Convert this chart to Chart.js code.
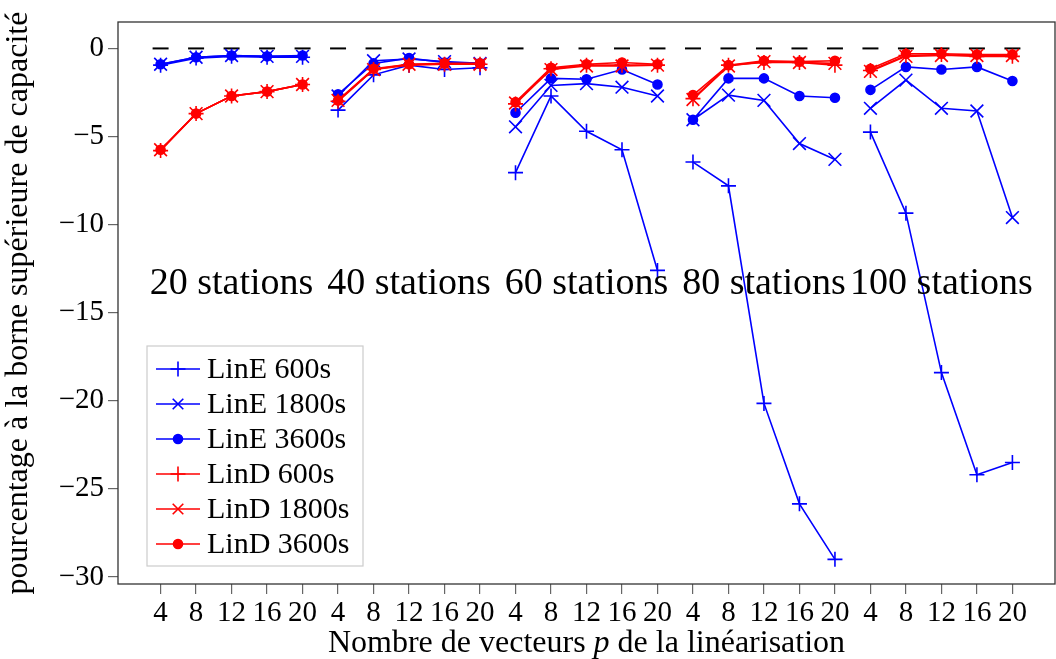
<!DOCTYPE html>
<html>
<head>
<meta charset="utf-8">
<script src="https://cdn.jsdelivr.net/npm/chart.js@4/dist/chart.umd.min.js"></script>
<style>
  html, body { margin: 0; padding: 0; background: #fff; }
  #wrap { width: 1056px; height: 659px; position: relative; }
</style>
</head>
<body>
<div id="wrap"><canvas id="chart"></canvas></div>
<script>
// ---------------------------------------------------------------------------
// données
// ---------------------------------------------------------------------------
const groupLabels = ['20 stations', '40 stations', '60 stations', '80 stations', '100 stations'];
const pValues = [4, 8, 12, 16, 20];
const yTickValues = [0, -5, -10, -15, -20, -25, -30];

// une ligne par groupe de stations, une colonne par valeur de p
const linE600 = [
  [-0.95, -0.55, -0.45, -0.5, -0.5],
  [-3.5, -1.5, -0.95, -1.2, -1.1],
  [-7.05, -2.7, -4.7, -5.75, -12.6],
  [-6.45, -7.8, -20.15, -25.85, -29.0],
  [-4.75, -9.35, -18.4, -24.2, -23.5]
];
const linE1800 = [
  [-0.9, -0.5, -0.4, -0.45, -0.45],
  [-2.7, -0.7, -0.6, -0.75, -0.85],
  [-4.45, -2.1, -2.0, -2.2, -2.7],
  [-4.05, -2.65, -2.95, -5.4, -6.3],
  [-3.4, -1.8, -3.4, -3.55, -9.6]
];
const linE3600 = [
  [-0.9, -0.5, -0.4, -0.45, -0.4],
  [-2.6, -0.85, -0.55, -0.8, -0.85],
  [-3.65, -1.7, -1.75, -1.2, -2.05],
  [-4.05, -1.7, -1.7, -2.7, -2.8],
  [-2.35, -1.05, -1.2, -1.05, -1.85]
];
const linD600 = [
  [-5.8, -3.7, -2.7, -2.45, -2.05],
  [-3.0, -1.2, -0.95, -0.9, -0.9],
  [-3.15, -1.15, -0.95, -0.95, -0.95],
  [-2.85, -0.95, -0.8, -0.8, -0.95],
  [-1.25, -0.4, -0.35, -0.45, -0.45]
];
const linD1800 = [
  [-5.75, -3.7, -2.7, -2.45, -2.05],
  [-2.95, -1.2, -0.9, -0.9, -0.9],
  [-3.1, -1.2, -1.0, -1.0, -0.95],
  [-2.9, -1.0, -0.75, -0.8, -0.85],
  [-1.3, -0.45, -0.4, -0.4, -0.4]
];
const linD3600 = [
  [-5.75, -3.7, -2.7, -2.45, -2.05],
  [-2.95, -1.15, -0.9, -0.85, -0.85],
  [-3.05, -1.1, -0.9, -0.8, -0.9],
  [-2.65, -0.95, -0.7, -0.75, -0.7],
  [-1.15, -0.3, -0.3, -0.35, -0.35]
];

const FONT = "'Liberation Serif', 'Times New Roman', serif";
const BLUE = '#0000ff';
const RED = '#ff0000';

// position x = indice global (groupe * 5 + k), avec une coupure entre groupes
function toPoints(table) {
  const pts = [];
  table.forEach((row, g) => {
    row.forEach((v, k) => pts.push({ x: g * pValues.length + k, y: v }));
    pts.push({ x: g * pValues.length + pValues.length - 0.5, y: null });
  });
  return pts;
}

function makeSeries(label, table, color, style, radius, order) {
  return {
    label: label,
    data: toPoints(table),
    borderColor: color,
    backgroundColor: color,
    borderWidth: 1.6,
    pointStyle: style,
    pointRadius: radius,
    pointHoverRadius: radius,
    pointBorderWidth: 1.6,
    pointBorderColor: color,
    pointBackgroundColor: color,
    spanGaps: false,
    tension: 0,
    order: order
  };
}

const datasets = [
  makeSeries('LinE 600s', linE600, BLUE, 'cross', 7.5, 6),
  makeSeries('LinE 1800s', linE1800, BLUE, 'crossRot', 9, 5),
  makeSeries('LinE 3600s', linE3600, BLUE, 'circle', 4.5, 4),
  makeSeries('LinD 600s', linD600, RED, 'cross', 7.5, 3),
  makeSeries('LinD 1800s', linD1800, RED, 'crossRot', 9, 2),
  makeSeries('LinD 3600s', linD3600, RED, 'circle', 4.5, 1)
];

const nPoints = groupLabels.length * pValues.length;

// ---------------------------------------------------------------------------
// plugin : cadre, traits pointillés à 0, étiquettes de groupes, titres, légende
// ---------------------------------------------------------------------------
const decorPlugin = {
  id: 'decor',
  beforeDatasetsDraw(chart) {
    const { ctx, scales: { x, y } } = chart;
    const y0 = y.getPixelForValue(0);
    ctx.save();
    ctx.strokeStyle = '#000';
    ctx.lineWidth = 2;
    for (let i = 0; i < nPoints; i++) {
      const px = x.getPixelForValue(i);
      ctx.beginPath();
      ctx.moveTo(px - 8, y0);
      ctx.lineTo(px + 8, y0);
      ctx.stroke();
    }
    ctx.restore();
  },
  afterDatasetsDraw(chart) {
    const { ctx, chartArea: a, scales: { x, y } } = chart;
    ctx.save();

    // cadre complet
    ctx.strokeStyle = '#333';
    ctx.lineWidth = 1.3;
    ctx.strokeRect(a.left, a.top, a.right - a.left, a.bottom - a.top);

    // étiquettes "NN stations"
    ctx.fillStyle = '#000';
    ctx.font = '38px ' + FONT;
    ctx.textAlign = 'center';
    ctx.textBaseline = 'middle';
    groupLabels.forEach((lab, g) => {
      ctx.fillText(lab, x.getPixelForValue(g * pValues.length + 2), y.getPixelForValue(-13.4));
    });

    // titre de l'axe x (p en italique)
    const parts = [
      { t: 'Nombre de vecteurs ', f: '32px ' + FONT },
      { t: 'p', f: 'italic 32px ' + FONT },
      { t: ' de la linéarisation', f: '32px ' + FONT }
    ];
    let total = 0;
    parts.forEach(p => { ctx.font = p.f; p.w = ctx.measureText(p.t).width; total += p.w; });
    let cx = (a.left + a.right) / 2 - total / 2;
    ctx.textAlign = 'left';
    parts.forEach(p => { ctx.font = p.f; ctx.fillText(p.t, cx, 644); cx += p.w; });

    // titre de l'axe y
    ctx.save();
    ctx.translate(19, (a.top + a.bottom) / 2);
    ctx.rotate(-Math.PI / 2);
    ctx.textAlign = 'center';
    ctx.font = '32px ' + FONT;
    ctx.fillText('pourcentage à la borne supérieure de capacité', 0, 0);
    ctx.restore();

    // légende
    const bx = 147, by = 346, bw = 216, bh = 220;
    ctx.fillStyle = '#fff';
    ctx.fillRect(bx, by, bw, bh);
    ctx.strokeStyle = '#cccccc';
    ctx.lineWidth = 1.2;
    ctx.strokeRect(bx, by, bw, bh);
    const rowY = [369, 404, 439, 474, 509, 544];
    chart.data.datasets.forEach((ds, i) => {
      const ly = rowY[i];
      ctx.strokeStyle = ds.borderColor;
      ctx.lineWidth = 1.6;
      ctx.beginPath();
      ctx.moveTo(156, ly);
      ctx.lineTo(200, ly);
      ctx.stroke();
      ctx.fillStyle = ds.borderColor;
      Chart.helpers.drawPoint(ctx, {
        pointStyle: ds.pointStyle,
        radius: ds.pointStyle === 'circle' ? 4.5 : 7.5,
        borderWidth: 1.6,
        rotation: 0
      }, 178, ly);
      ctx.fillStyle = '#000';
      ctx.font = '30px ' + FONT;
      ctx.textAlign = 'left';
      ctx.textBaseline = 'middle';
      ctx.fillText(ds.label, 207, ly + 1);
    });

    ctx.restore();
  }
};

// ---------------------------------------------------------------------------
// création du graphique
// ---------------------------------------------------------------------------
const canvas = document.getElementById('chart');
const chart = new Chart(canvas, {
  type: 'line',
  data: { datasets: datasets },
  options: {
    responsive: true,
    maintainAspectRatio: false,
    animation: false,
    events: [],
    layout: { autoPadding: false, padding: { top: 22, right: 1, left: 0, bottom: 0 } },
    plugins: {
      legend: { display: false },
      tooltip: { enabled: false }
    },
    scales: {
      x: {
        type: 'linear',
        min: -1.2,
        max: nPoints + 0.2,
        afterBuildTicks: s => {
          s.ticks = [];
          for (let i = 0; i < nPoints; i++) s.ticks.push({ value: i });
        },
        afterFit: s => { s.height = 75; s.paddingLeft = 0; s.paddingRight = 0; },
        ticks: {
          autoSkip: false,
          maxRotation: 0,
          padding: 2,
          color: '#000',
          font: { family: FONT, size: 29 },
          callback: v => pValues[Math.round(v) % pValues.length]
        },
        grid: { drawOnChartArea: false, drawTicks: true, tickLength: 10, color: '#666', lineWidth: 1.2 },
        border: { display: false }
      },
      y: {
        type: 'linear',
        min: -30.4,
        max: 1.5,
        afterBuildTicks: s => { s.ticks = yTickValues.map(v => ({ value: v })); },
        afterFit: s => { s.width = 118; s.paddingTop = 0; s.paddingBottom = 0; },
        ticks: {
          padding: 4,
          color: '#000',
          font: { family: FONT, size: 29 },
          callback: v => (v < 0 ? '\u2212' + Math.abs(v) : String(v))
        },
        grid: { drawOnChartArea: false, drawTicks: true, tickLength: 10, color: '#666', lineWidth: 1.2 },
        border: { display: false }
      }
    }
  },
  plugins: [decorPlugin]
});

console.log('[CHART] graphique créé', chart.chartArea);
</script>
</body>
</html>
